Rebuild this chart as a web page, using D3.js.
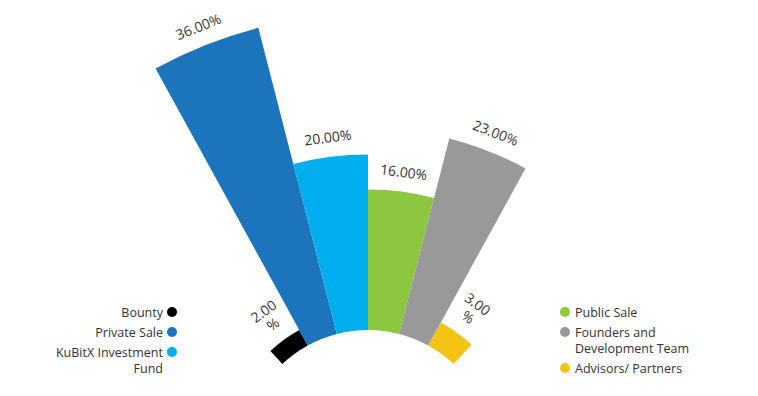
<!DOCTYPE html>
<html>
<head>
<meta charset="utf-8">
<script src="https://cdn.jsdelivr.net/npm/d3@7"></script>
<style>
  body { margin: 0; background: #fff; }
  svg { display: block; font-family: "Open Sans", sans-serif; }
</style>
</head>
<body>
<svg id="chart" width="758" height="396"></svg>
<script>
// categories and values (in %)
var categories = ["Bounty", "Private Sale", "KuBitX Investment Fund", "Public Sale", "Founders and Development Team", "Advisors/ Partners"];
var values = [2, 36, 20, 16, 23, 3];
var colors = ["#000000", "#1c75bc", "#00aeef", "#8dc63f", "#999999", "#f2c315"];

// legend rows (wrapped text as it shows in the picture)
var leftLegend = [["Bounty"], ["Private Sale"], ["KuBitX Investment", "Fund"]];
var rightLegend = [["Public Sale"], ["Founders and", "Development Team"], ["Advisors/ Partners"]];

var svg = d3.select("#chart");
var cx = 368, cy = 455;
var span = 43.2 * Math.PI / 180;

var angle = d3.scaleBand()
    .domain(categories)
    .range([-span, span])
    .padding(0);

var radius = d3.scaleLinear()
    .domain([0, d3.max(values)])
    .range([125, 441]);

var data = categories.map(function (c, i) {
    return { name: c, value: values[i], color: colors[i] };
});

var arc = d3.arc()
    .innerRadius(radius(0))
    .outerRadius(function (d) { return radius(d.value); })
    .startAngle(function (d) { return angle(d.name); })
    .endAngle(function (d) { return angle(d.name) + angle.bandwidth(); });

var g = svg.append("g").attr("transform", "translate(" + cx + "," + cy + ")");

g.selectAll("path")
    .data(data)
    .enter()
    .append("path")
    .attr("d", arc)
    .attr("fill", function (d) { return d.color; });

// value labels, rotated along the bar
var labels = g.selectAll("g.lab")
    .data(data)
    .enter()
    .append("g")
    .attr("class", "lab")
    .attr("transform", function (d) {
        var mid = angle(d.name) + angle.bandwidth() / 2;
        return "rotate(" + (mid * 180 / Math.PI) + ")";
    });

labels.each(function (d) {
    var r = radius(d.value);
    var el = d3.select(this);
    var t = el.append("text")
        .attr("text-anchor", "middle")
        .attr("dominant-baseline", "central")
        .attr("font-size", 14)
        .attr("fill", "#333")
        .attr("y", -(r + 20))
        .text(d.value.toFixed(2) + "%");
    // too wide for the bar: break before the % sign
    if (t.node().getComputedTextLength() + 8 > r * angle.bandwidth()) {
        t.text(null).attr("y", null);
        t.append("tspan").attr("x", 0).attr("y", -(r + 36)).text(d.value.toFixed(2));
        t.append("tspan").attr("x", 0).attr("y", -(r + 20)).text("%");
    }
});

// legends
function legend(rows, x, anchor, startIdx) {
    var y = 312;
    rows.forEach(function (lines, i) {
        var col = colors[startIdx + i];
        var dotX = anchor === "end" ? x + 9 : x - 10;
        svg.append("circle")
            .attr("cx", dotX)
            .attr("cy", y)
            .attr("r", 5)
            .attr("fill", col);
        var t = svg.append("text")
            .attr("text-anchor", anchor)
            .attr("font-size", 12.5)
            .attr("fill", "#333");
        lines.forEach(function (ln, k) {
            t.append("tspan")
                .attr("x", x)
                .attr("y", y + k * 16)
                .attr("dominant-baseline", "central")
                .text(ln);
        });
        y += 20 + (lines.length - 1) * 16;
    });
}

legend(leftLegend, 163, "end", 0);
legend(rightLegend, 575, "start", 3);
</script>
</body>
</html>
